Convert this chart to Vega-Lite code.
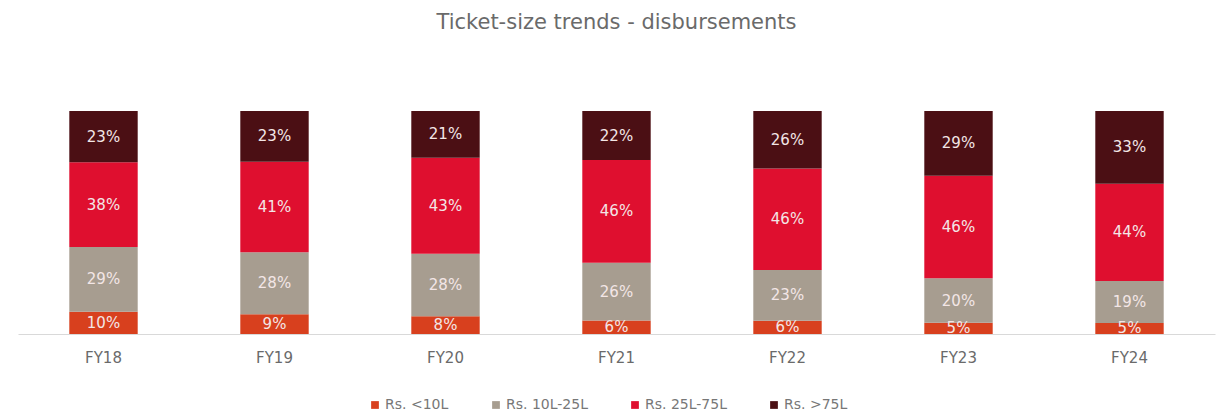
{
  "$schema": "https://vega.github.io/schema/vega-lite/v6.json",
  "width": 1197,
  "height": 223,
  "autosize": {"type": "none"},
  "padding": {"left": 18, "top": 111, "right": 4, "bottom": 80},
  "background": "white",
  "config": {"view": {"stroke": null}, "font": "DejaVu Sans"},
  "title": {
    "text": "Ticket-size trends - disbursements",
    "fontSize": 21,
    "fontWeight": "normal",
    "color": "#6a6a6a",
    "anchor": "middle",
    "offset": 78,
    "font": "DejaVu Sans"
  },
  "data": {
    "values": [
      {"fy": "FY18", "bucket": "Rs. <10L", "k": 0, "v": 10},
      {"fy": "FY18", "bucket": "Rs. 10L-25L", "k": 1, "v": 29},
      {"fy": "FY18", "bucket": "Rs. 25L-75L", "k": 2, "v": 38},
      {"fy": "FY18", "bucket": "Rs. >75L", "k": 3, "v": 23},
      {"fy": "FY19", "bucket": "Rs. <10L", "k": 0, "v": 9},
      {"fy": "FY19", "bucket": "Rs. 10L-25L", "k": 1, "v": 28},
      {"fy": "FY19", "bucket": "Rs. 25L-75L", "k": 2, "v": 41},
      {"fy": "FY19", "bucket": "Rs. >75L", "k": 3, "v": 23},
      {"fy": "FY20", "bucket": "Rs. <10L", "k": 0, "v": 8},
      {"fy": "FY20", "bucket": "Rs. 10L-25L", "k": 1, "v": 28},
      {"fy": "FY20", "bucket": "Rs. 25L-75L", "k": 2, "v": 43},
      {"fy": "FY20", "bucket": "Rs. >75L", "k": 3, "v": 21},
      {"fy": "FY21", "bucket": "Rs. <10L", "k": 0, "v": 6},
      {"fy": "FY21", "bucket": "Rs. 10L-25L", "k": 1, "v": 26},
      {"fy": "FY21", "bucket": "Rs. 25L-75L", "k": 2, "v": 46},
      {"fy": "FY21", "bucket": "Rs. >75L", "k": 3, "v": 22},
      {"fy": "FY22", "bucket": "Rs. <10L", "k": 0, "v": 6},
      {"fy": "FY22", "bucket": "Rs. 10L-25L", "k": 1, "v": 23},
      {"fy": "FY22", "bucket": "Rs. 25L-75L", "k": 2, "v": 46},
      {"fy": "FY22", "bucket": "Rs. >75L", "k": 3, "v": 26},
      {"fy": "FY23", "bucket": "Rs. <10L", "k": 0, "v": 5},
      {"fy": "FY23", "bucket": "Rs. 10L-25L", "k": 1, "v": 20},
      {"fy": "FY23", "bucket": "Rs. 25L-75L", "k": 2, "v": 46},
      {"fy": "FY23", "bucket": "Rs. >75L", "k": 3, "v": 29},
      {"fy": "FY24", "bucket": "Rs. <10L", "k": 0, "v": 5},
      {"fy": "FY24", "bucket": "Rs. 10L-25L", "k": 1, "v": 19},
      {"fy": "FY24", "bucket": "Rs. 25L-75L", "k": 2, "v": 44},
      {"fy": "FY24", "bucket": "Rs. >75L", "k": 3, "v": 33}
    ]
  },
  "transform": [
    {"stack": "v", "groupby": ["fy"], "sort": [{"field": "k", "order": "ascending"}], "offset": "normalize", "as": ["y0", "y1"]},
    {"calculate": "(datum.y0 + datum.y1) / 2", "as": "ym"},
    {"calculate": "datum.v + '%'", "as": "lbl"}
  ],
  "encoding": {
    "x": {
      "field": "fy",
      "type": "nominal",
      "title": null,
      "scale": {"paddingInner": 0.6, "paddingOuter": 0.3},
      "axis": {
        "labelAngle": 0,
        "ticks": false,
        "domainColor": "#d9d9d9",
        "labelColor": "#6a6a6a",
        "labelFontSize": 15,
        "labelPadding": 16,
        "labelFont": "DejaVu Sans"
      }
    }
  },
  "layer": [
    {
      "mark": {"type": "bar"},
      "encoding": {
        "y": {"field": "y0", "type": "quantitative", "scale": {"domain": [0, 1]}, "axis": null},
        "y2": {"field": "y1"},
        "color": {
          "field": "bucket",
          "type": "nominal",
          "scale": {
            "domain": ["Rs. <10L", "Rs. 10L-25L", "Rs. 25L-75L", "Rs. >75L"],
            "range": ["#d8401e", "#a79d90", "#df0f2f", "#4b0f14"]
          },
          "legend": {
            "title": null,
            "orient": "none",
            "legendX": 350,
            "legendY": 287,
            "direction": "horizontal",
            "symbolType": "square",
            "symbolSize": 60,
            "symbolStrokeWidth": 0,
            "labelFontSize": 14,
            "labelOffset": 3,
            "labelColor": "#777777",
            "labelFont": "DejaVu Sans",
            "columnPadding": 40
          }
        }
      }
    },
    {
      "mark": {"type": "text", "fontSize": 15, "color": "#f3e6e6", "font": "DejaVu Sans"},
      "encoding": {
        "y": {"field": "ym", "type": "quantitative", "scale": {"domain": [0, 1]}},
        "text": {"field": "lbl", "type": "nominal"}
      }
    }
  ]
}
